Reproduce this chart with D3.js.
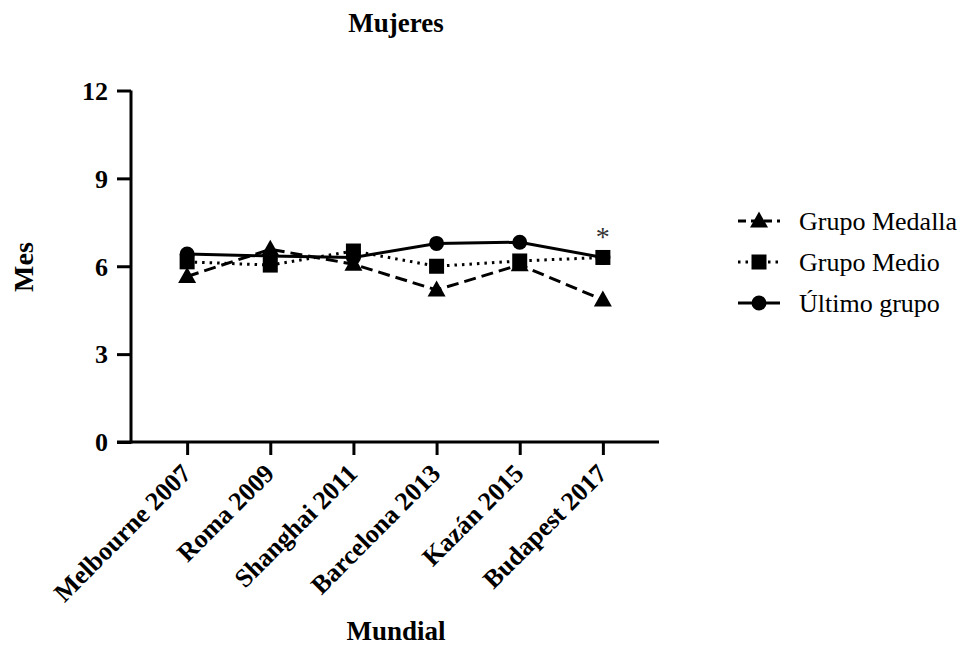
<!DOCTYPE html>
<html><head><meta charset="utf-8">
<script src="https://cdn.jsdelivr.net/npm/d3@7"></script>
<style>body{margin:0;background:#fff}svg{display:block}</style>
</head><body><svg id="c" width="960" height="667"></svg>
<script>
const categories = ["Melbourne 2007","Roma 2009","Shanghai 2011","Barcelona 2013","Kazán 2015","Budapest 2017"];
const medalla = [5.65, 6.58, 6.07, 5.19, 6.05, 4.85];
const medio   = [6.15, 6.04, 6.52, 6.0, 6.18, 6.3];
const ultimo  = [6.42, 6.35, 6.3, 6.78, 6.82, 6.3];
const yTicks = [0, 3, 6, 9, 12];
const seriesNames = ["Grupo Medalla","Grupo Medio","Último grupo"];
const annotation = {category:"Budapest 2017", label:"*"};

const FONT = "'Liberation Serif','Times New Roman',Tinos,'DejaVu Serif',serif";

const series = [
  {name:seriesNames[0], values:medalla, dash:"12,6", marker:"triangle"},
  {name:seriesNames[1], values:medio, dash:"2.5,5", marker:"square"},
  {name:seriesNames[2], values:ultimo, dash:null, marker:"circle"}
];

const svg = d3.select("#c");
const x = d3.scalePoint().domain(categories).range([131, 659]).padding(0.675);
const y = d3.scaleLinear().domain([0, 12]).range([442, 90.5]);

// axes
const gy = svg.append("g").attr("transform","translate(131,0)")
  .call(d3.axisLeft(y).tickValues(yTicks).tickSize(14).tickPadding(9).tickSizeOuter(0));
const gx = svg.append("g").attr("transform","translate(0,442)")
  .call(d3.axisBottom(x).tickSize(13).tickSizeOuter(0));
[gy,gx].forEach(g=>{
  g.attr("font-family",FONT);
  g.select(".domain").attr("stroke","#000").attr("stroke-width",3);
  g.selectAll(".tick line").attr("stroke","#000").attr("stroke-width",3);
});
gx.select(".domain").attr("d","M117,0H659");
gy.select(".domain").attr("d","M0,90.5V443.5");
gy.selectAll(".tick text").attr("font-size",26).attr("font-weight","bold").attr("fill","#000")
  .attr("font-family",FONT).attr("dy","0.34em");
gx.selectAll(".tick text").attr("font-size",26).attr("font-weight","bold").attr("fill","#000")
  .attr("font-family",FONT)
  .attr("text-anchor","end").attr("dy",null).attr("y",0)
  .attr("transform","translate(5,33) rotate(-45)");

const line = d3.line().x((d,i)=>x(categories[i])).y(d=>y(d));

function marker(g, type, cx, cy){
  if(type==="circle") g.append("circle").attr("cx",cx).attr("cy",cy).attr("r",7.5).attr("fill","#000");
  else if(type==="square") g.append("rect").attr("x",cx-7.5).attr("y",cy-7.5).attr("width",15).attr("height",15).attr("fill","#000");
  else g.append("path").attr("d",`M${cx},${cy-9.5}L${cx+9},${cy+6.5}L${cx-9},${cy+6.5}Z`).attr("fill","#000");
}

series.forEach(s=>{
  svg.append("path").datum(s.values).attr("d",line).attr("fill","none").attr("stroke","#000")
    .attr("stroke-width",3).attr("stroke-dasharray",s.dash);
});
series.forEach(s=>{
  const g = svg.append("g");
  s.values.forEach((v,i)=>marker(g, s.marker, x(categories[i]), y(v)));
});

// annotation
svg.append("text").attr("x",x(annotation.category)).attr("y",y(medio[5])-11)
  .attr("text-anchor","middle").attr("font-family",FONT).attr("font-size",28).attr("fill","#333").text(annotation.label);

// titles
svg.append("text").attr("x",396).attr("y",32).attr("text-anchor","middle").attr("font-family",FONT).attr("font-size",27).attr("font-weight","bold").text("Mujeres");
svg.append("text").attr("x",396).attr("y",640).attr("text-anchor","middle").attr("font-family",FONT).attr("font-size",27).attr("font-weight","bold").text("Mundial");
svg.append("text").attr("transform","translate(33,267) rotate(-90)").attr("text-anchor","middle").attr("font-family",FONT).attr("font-size",28).attr("font-weight","bold").text("Mes");

// legend
const legY = [221, 262, 303];
series.forEach((s,i)=>{
  const g = svg.append("g");
  g.append("line").attr("x1",738).attr("x2",780).attr("y1",legY[i]).attr("y2",legY[i])
    .attr("stroke","#000").attr("stroke-width",3).attr("stroke-dasharray",s.dash? (i===0?"8,5":"2.5,5"):null);
  marker(g, s.marker, 759, legY[i]);
  g.append("text").attr("x",799).attr("y",legY[i]).attr("dy","0.34em").attr("font-family",FONT).attr("font-size",26).attr("fill","#000").text(s.name);
});
</script></body></html>
